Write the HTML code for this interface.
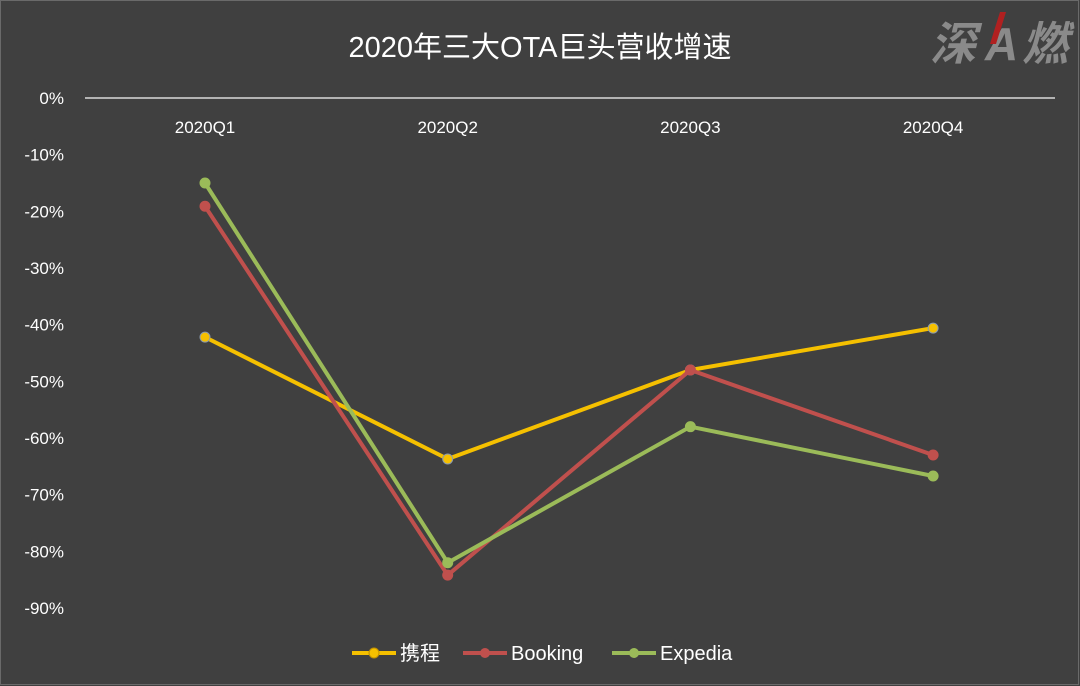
<!DOCTYPE html>
<html><head><meta charset="utf-8"><style>
html,body{margin:0;padding:0;background:#404040;}
svg{display:block;}
text{font-family:"Liberation Sans","Noto Sans CJK SC",sans-serif;}
</style></head><body>
<svg id="chart" width="1080" height="686" viewBox="0 0 1080 686">
<rect x="0" y="0" width="1080" height="686" fill="#404040"/>
<rect x="0.5" y="0.5" width="1078" height="684" fill="none" stroke="#6a6a6a"/>
<text x="540" y="57" font-size="29" fill="#ffffff" text-anchor="middle">2020年三大OTA巨头营收增速</text>
<g>
<text x="930" y="60" font-size="46" font-weight="bold" font-style="italic" fill="#8a8a8a">深</text>
<text x="1022" y="60" font-size="46" font-weight="bold" font-style="italic" fill="#8a8a8a">燃</text>
<text x="985" y="60" font-size="46" font-weight="bold" font-style="italic" fill="#8a8a8a">A</text>
<polygon points="1000,12 1006,12 996,44 990,44" fill="#b02020"/>
</g>
<g id="axes"></g>
<g id="series"></g>
<g>
<line x1="352" y1="653" x2="396" y2="653" stroke="#f5c000" stroke-width="4"/>
<circle cx="374" cy="653" r="5" fill="#f5c000" stroke="#c09000"/>
<text x="400" y="660" font-size="20" fill="#fff">携程</text>
<line x1="463" y1="653" x2="507" y2="653" stroke="#c0504d" stroke-width="4"/>
<circle cx="485" cy="653" r="5" fill="#c0504d"/>
<text x="511" y="660" font-size="20" fill="#fff">Booking</text>
<line x1="612" y1="653" x2="656" y2="653" stroke="#9bbb59" stroke-width="4"/>
<circle cx="634" cy="653" r="5" fill="#9bbb59"/>
<text x="660" y="660" font-size="20" fill="#fff">Expedia</text>
</g>
</svg>
<script>
const categories = ["2020Q1","2020Q2","2020Q3","2020Q4"];
const yTicks = [0,-10,-20,-30,-40,-50,-60,-70,-80,-90];
const ctrip = [-42.2,-63.7,-48,-40.6];
const booking = [-19.1,-84.2,-48,-63];
const expedia = [-15,-82,-58,-66.7];
const NS="http://www.w3.org/2000/svg";
function y(v){return 98 + (-v)*5.667;}
function x(i){return 205 + i*242.7;}
const axes=document.getElementById('axes');
const series=document.getElementById('series');
function mk(tag,attrs,parent){const e=document.createElementNS(NS,tag);for(const k in attrs)e.setAttribute(k,attrs[k]);parent.appendChild(e);return e;}
const ax=mk('line',{x1:85,y1:98,x2:1055,y2:98,stroke:'#d9d9d9','stroke-width':1.5},axes);


yTicks.forEach(v=>{
  const t=mk('text',{x:64,y:y(v)+6,'font-size':17,fill:'#ffffff','text-anchor':'end'},axes);
  t.textContent=v+'%';
  
  
});
categories.forEach((c,i)=>{
  const t=mk('text',{x:x(i),y:133,'font-size':17,fill:'#ffffff','text-anchor':'middle'},axes);
  t.textContent=c;
  
  
});
function draw(vals,color,stroke,name){
  const g=mk('g',{},series);
  
  
  const p=mk('polyline',{points:vals.map((v,i)=>x(i)+','+y(v)).join(' '),fill:'none',stroke:color,'stroke-width':4,'stroke-linejoin':'round'},g);
  
  
  vals.forEach((v,i)=>{
    const c=mk('circle',{cx:x(i),cy:y(v),r:5,fill:color,stroke:stroke,'stroke-width':1},g);
    
    
  });
}
draw(ctrip,'#f5c000','#8a9ab0','ctrip');
draw(booking,'#c0504d','#c0504d','booking');
draw(expedia,'#9bbb59','#9bbb59','expedia');
</script>
</body></html>
